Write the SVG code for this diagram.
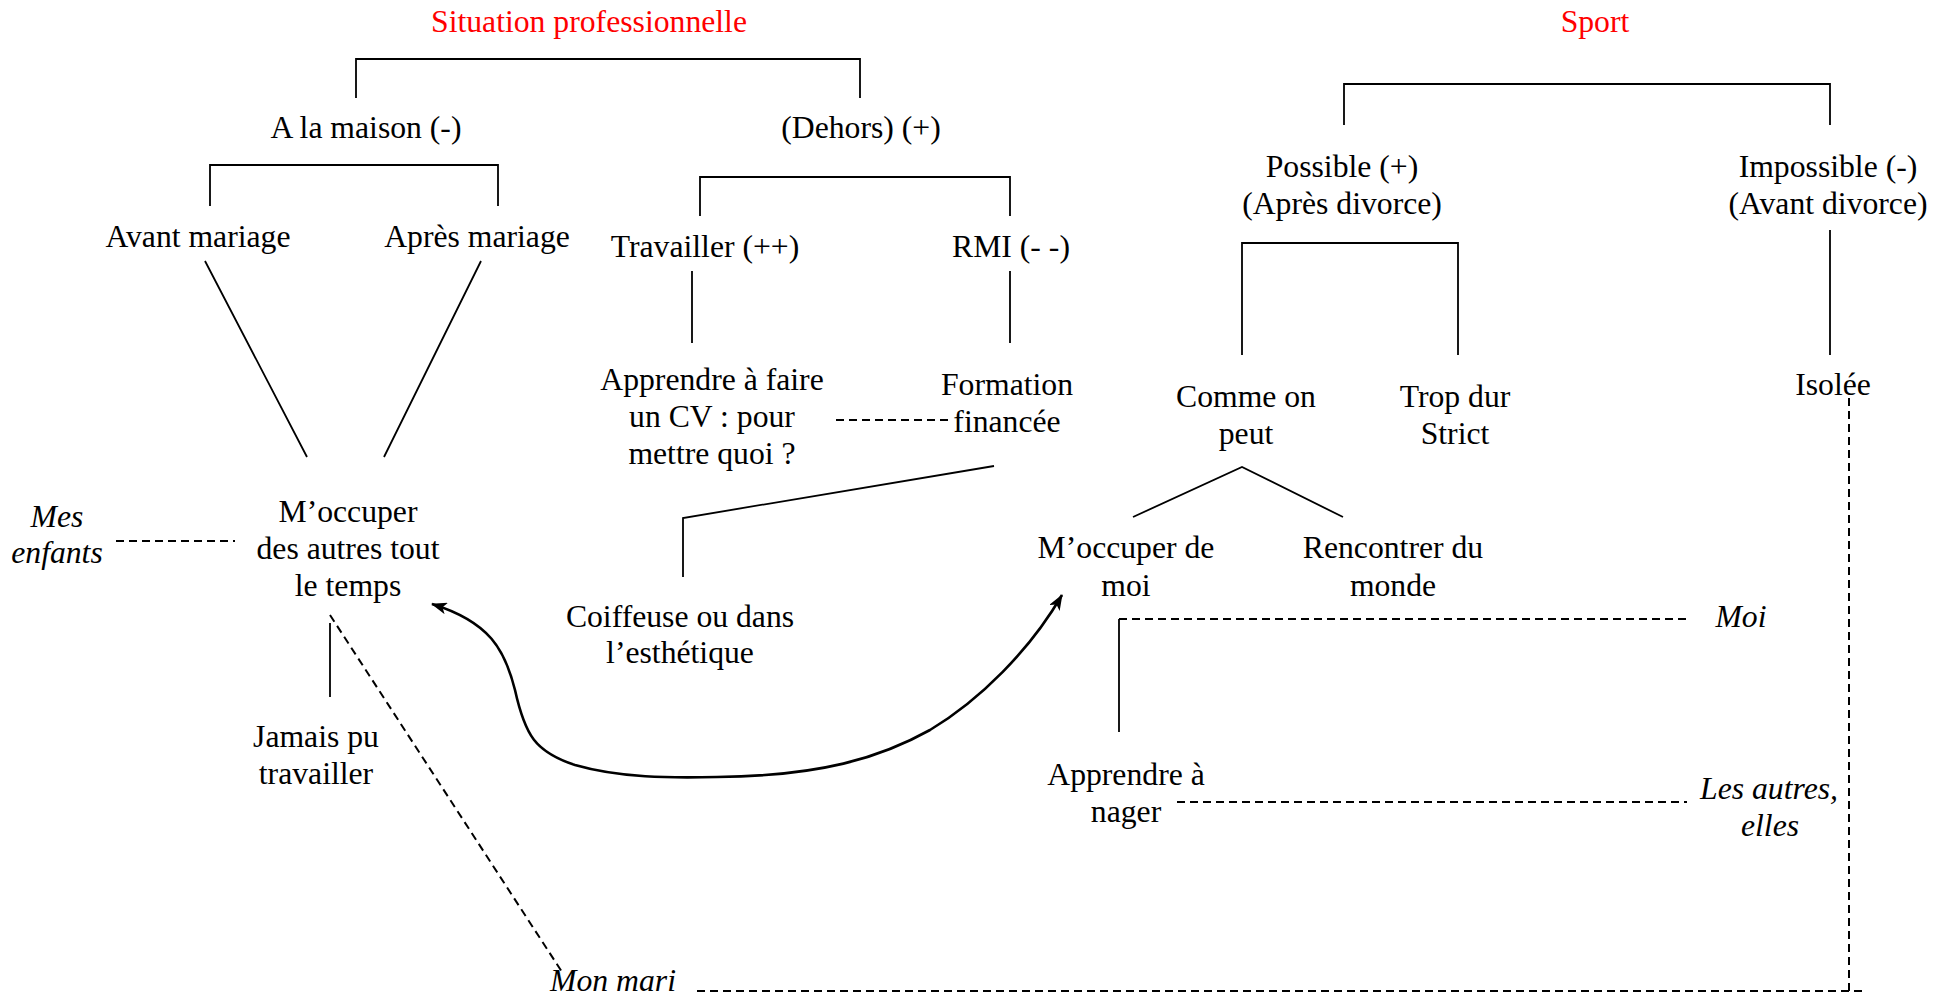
<svg xmlns="http://www.w3.org/2000/svg" width="1945" height="999" viewBox="0 0 1945 999">
<style>
text{font-family:"Liberation Serif","Times New Roman",serif;font-size:31.7px;fill:#000;text-anchor:middle}
.t{fill:#ff0000}
.i{font-style:italic}
.s{fill:none;stroke:#000;stroke-width:1.8}
.d{fill:none;stroke:#000;stroke-width:2;stroke-dasharray:8 5}
.c{fill:none;stroke:#000;stroke-width:2.6}
</style>
<defs>
<marker id="ah" viewBox="0 0 16 12" refX="15" refY="6" markerWidth="16" markerHeight="12" markerUnits="userSpaceOnUse" orient="auto-start-reverse">
<path d="M0 0 L16 6 L0 12 L4 6 Z" fill="#000"/>
</marker>
</defs>
<rect width="1945" height="999" fill="#fff"/>
<g id="connectors">
<path class="s" d="M356 98 V59 H860 V98"/>
<path class="s" d="M210 206 V165 H498 V206"/>
<path class="s" d="M700 216 V177 H1010 V216"/>
<path class="s" d="M692 271 V343 M1010 271 V343"/>
<path class="s" d="M205 261 L307 457 M481 261 L384 457"/>
<path class="d" d="M836 420 H951"/>
<path class="s" d="M994 466 L683 518 V577"/>
<path class="d" d="M116 541 H235"/>
<path class="s" d="M330 623 V697"/>
<path class="d" d="M330 615 L562 972"/>
<path class="d" d="M697 991 H1867"/>
<path class="s" d="M1344 125 V84 H1830 V125"/>
<path class="s" d="M1830 230 V355"/>
<path class="s" d="M1242 355 V243 H1458 V355"/>
<path class="d" d="M1849 398 V991"/>
<path class="s" d="M1133 517 L1242 467 L1343 517"/>
<path class="s" d="M1119 732 V619"/>
<path class="d" d="M1119 619 H1687"/>
<path class="d" d="M1177 802 H1687"/>
<path class="c" marker-start="url(#ah)" marker-end="url(#ah)" d="M432 604 C490 622 505 650 515 690 C525 735 535 752 575 765 C620 778 670 778 717 777 C820 776 880 758 930 730 C980 700 1030 650 1062 595"/>
</g>
<g id="title-situation"><text class="t" x="589" y="32">Situation professionnelle</text></g>
<g id="title-sport"><text class="t" x="1595" y="32">Sport</text></g>
<g id="n-maison"><text x="366" y="138">A la maison (-)</text></g>
<g id="n-dehors"><text x="861" y="138">(Dehors) (+)</text></g>
<g id="n-avant"><text x="198" y="247">Avant mariage</text></g>
<g id="n-apres"><text x="477" y="247">Après mariage</text></g>
<g id="n-travailler"><text x="705" y="257">Travailler (++)</text></g>
<g id="n-rmi"><text x="1011" y="257">RMI (- -)</text></g>
<g id="n-cv"><text x="712" y="390">Apprendre à faire</text><text x="712" y="427">un CV : pour</text><text x="712" y="464">mettre quoi ?</text></g>
<g id="n-formation"><text x="1007" y="395">Formation</text><text x="1007" y="432">financée</text></g>
<g id="n-coiffeuse"><text x="680" y="627">Coiffeuse ou dans</text><text x="680" y="663">l’esthétique</text></g>
<g id="n-enfants"><text class="i" x="57" y="527">Mes</text><text class="i" x="57" y="563">enfants</text></g>
<g id="n-occuper-autres"><text x="348" y="522">M’occuper</text><text x="348" y="559">des autres tout</text><text x="348" y="596">le temps</text></g>
<g id="n-jamais"><text x="316" y="747">Jamais pu</text><text x="316" y="784">travailler</text></g>
<g id="n-mari"><text class="i" x="613" y="991">Mon mari</text></g>
<g id="n-possible"><text x="1342" y="177">Possible (+)</text><text x="1342" y="214">(Après divorce)</text></g>
<g id="n-impossible"><text x="1828" y="177">Impossible (-)</text><text x="1828" y="214">(Avant divorce)</text></g>
<g id="n-comme"><text x="1246" y="407">Comme on</text><text x="1246" y="444">peut</text></g>
<g id="n-trop"><text x="1455" y="407">Trop dur</text><text x="1455" y="444">Strict</text></g>
<g id="n-isolee"><text x="1833" y="395">Isolée</text></g>
<g id="n-occuper-moi"><text x="1126" y="558">M’occuper de</text><text x="1126" y="596">moi</text></g>
<g id="n-rencontrer"><text x="1393" y="558">Rencontrer du</text><text x="1393" y="596">monde</text></g>
<g id="n-moi"><text class="i" x="1741" y="627">Moi</text></g>
<g id="n-nager"><text x="1126" y="785">Apprendre à</text><text x="1126" y="822">nager</text></g>
<g id="n-autres"><text class="i" x="1769" y="799">Les autres,</text><text class="i" x="1770" y="836">elles</text></g>
</svg>
